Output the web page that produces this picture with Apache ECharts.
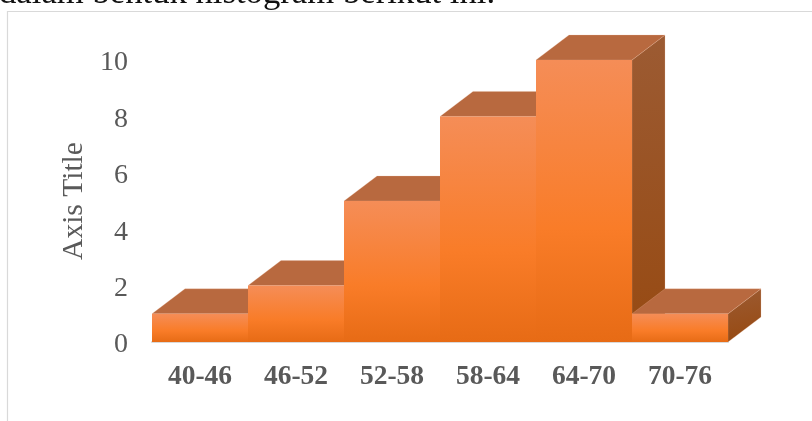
<!DOCTYPE html>
<html>
<head>
<meta charset="utf-8">
<style>html,body{margin:0;padding:0;background:#fff}#chart{width:812px;height:421px}</style>
<script src="https://cdn.jsdelivr.net/npm/echarts@6/dist/echarts.min.js"></script>
</head>
<body>
<div id="chart"></div>
<script>
const categories = ['40-46', '46-52', '52-58', '58-64', '64-70', '70-76'];
const frequencies = [1, 2, 5, 8, 10, 1];
const yTicks = [0, 2, 4, 6, 8, 10];
const captionText = 'dalam bentuk histogram berikut ini.';
const axisTitle = 'Axis Title';

const SERIF = '"Liberation Serif", "Times New Roman", serif';
const DEPTH_X = 33;
const DEPTH_Y = 25;

function linear(x, y, x2, y2, stops) {
  return new echarts.graphic.LinearGradient(x, y, x2, y2,
    stops.map(s => ({ offset: s[0], color: s[1] })));
}

// A histogram bar is a front face plus a sheared top and right side.
function renderBlock(params, api) {
  const base = api.coord([api.value(0), 0]);
  const tip = api.coord([api.value(0), api.value(1)]);
  const w = api.size([1, 0])[0];
  const l = base[0] - w / 2;
  const r = base[0] + w / 2;
  const t = tip[1];
  const b = base[1];
  const edge = { stroke: 'rgba(240,190,160,0.3)', lineWidth: 0.8 };
  return {
    type: 'group',
    children: [
      {
        type: 'polygon',
        shape: { points: [[r, t], [r + DEPTH_X, t - DEPTH_Y], [r + DEPTH_X, b - DEPTH_Y], [r, b]] },
        style: Object.assign({
          fill: linear(0, 0, 0.35, 1, [[0, '#9C5B33'], [1, '#974A12']])
        }, edge)
      },
      {
        type: 'polygon',
        shape: { points: [[l, t], [l + DEPTH_X, t - DEPTH_Y], [r + DEPTH_X, t - DEPTH_Y], [r, t]] },
        style: Object.assign({ fill: '#B8693F' }, edge)
      },
      {
        type: 'rect',
        shape: { x: l, y: t, width: w, height: b - t },
        style: {
          fill: linear(0, 0, 0, 1, [[0, '#F58D57'], [0.6, '#F97C28'], [1, '#E76B15']])
        }
      }
    ]
  };
}

const chart = echarts.init(document.getElementById('chart'), null, { renderer: 'canvas' });
chart.setOption({
  animation: false,
  backgroundColor: '#ffffff',
  grid: { left: 152, right: 84, top: 60, bottom: 79, containLabel: false },
  graphic: [
    {
      type: 'text', left: -1, top: -24, silent: true,
      style: { text: captionText, font: '34.7px ' + SERIF, fill: '#111111' }
    },
    {
      type: 'polyline', silent: true,
      shape: { points: [[7.5, 421], [7.5, 11.5], [812, 11.5]] },
      style: { stroke: '#d9d9d9', lineWidth: 1.2, fill: 'none' }
    }
  ],
  xAxis: {
    type: 'category',
    data: categories,
    axisTick: { show: false },
    axisLine: { show: true, lineStyle: { color: '#d9d9d9', width: 2 } },
    axisLabel: {
      color: '#595959', fontFamily: SERIF, fontSize: 27.5, fontWeight: 'bold', margin: 21
    }
  },
  yAxis: {
    type: 'value',
    min: yTicks[0],
    max: yTicks[yTicks.length - 1],
    interval: yTicks[1] - yTicks[0],
    name: axisTitle,
    nameLocation: 'middle',
    nameGap: 63,
    nameTextStyle: { color: '#595959', fontFamily: SERIF, fontSize: 29.5 },
    axisLine: { show: false },
    axisTick: { show: false },
    splitLine: { show: false },
    axisLabel: {
      color: '#595959', fontFamily: SERIF, fontSize: 28, margin: 24,
      verticalAlign: 'top', lineHeight: 6
    }
  },
  series: [{
    type: 'custom',
    renderItem: renderBlock,
    clip: false,
    encode: { x: 0, y: 1 },
    data: categories.map((c, i) => [i, frequencies[i]])
  }]
});
</script>
</body>
</html>
